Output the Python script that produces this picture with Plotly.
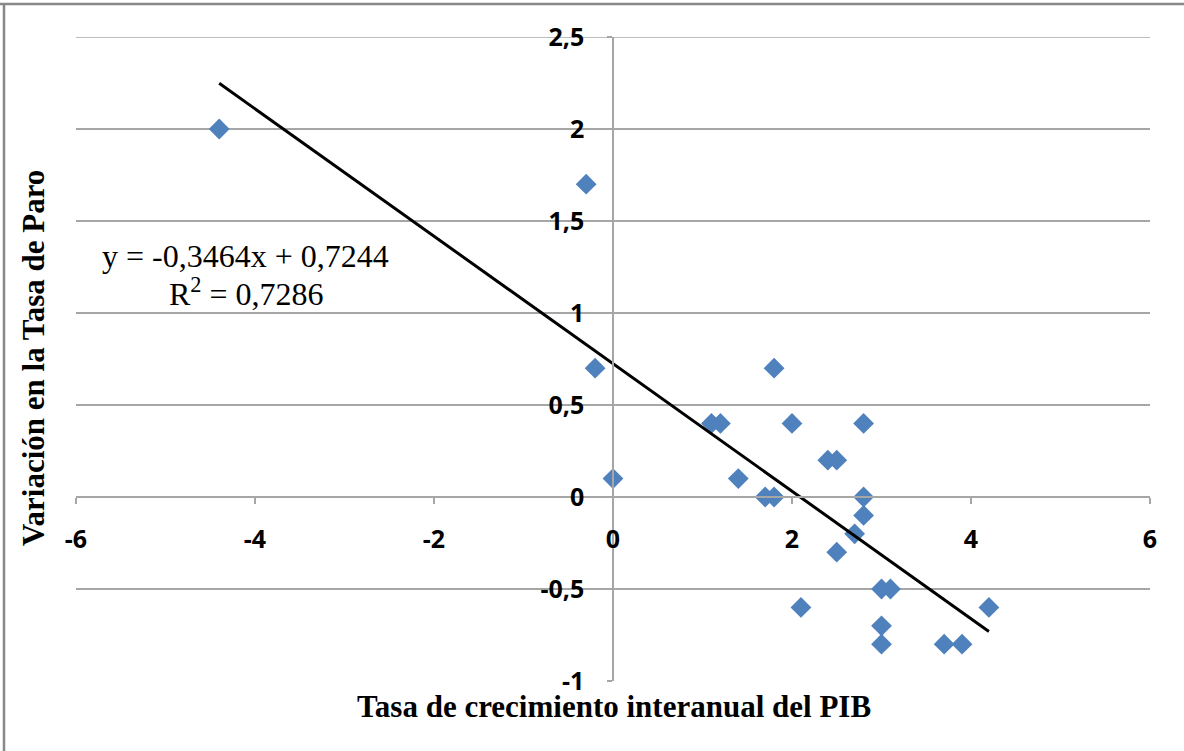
import plotly.graph_objects as go

# Data
pib_growth = [-4.4, -0.3, -0.2, 0.0, 1.1, 1.2, 1.4, 1.7, 1.8, 1.8, 2.0, 2.4, 2.5,
              2.8, 2.8, 2.8, 2.7, 2.5, 3.0, 3.1, 2.1, 4.2, 3.0, 3.0, 3.7, 3.9]
paro_change = [2.0, 1.7, 0.7, 0.1, 0.4, 0.4, 0.1, 0.0, 0.0, 0.7, 0.4, 0.2, 0.2,
               0.4, 0.0, -0.1, -0.2, -0.3, -0.5, -0.5, -0.6, -0.6, -0.7, -0.8, -0.8, -0.8]

trend_slope = -0.3464
trend_intercept = 0.7244

x_tickvals = [-6, -4, -2, 0, 2, 4, 6]
x_ticktext = ["-6", "-4", "-2", "0", "2", "4", "6"]
y_tickvals = [-1, -0.5, 0, 0.5, 1, 1.5, 2, 2.5]
y_ticktext = ["-1", "-0,5", "0", "0,5", "1", "1,5", "2", "2,5"]

x_range = [-6, 6]
y_range = [-1, 2.5]

eq_text = "y = -0,3464x + 0,7244"
r2_text = "R<sup>2</sup> = 0,7286"

W, H = 1184, 751
ml, mr, mt, mb = 76, 34, 37, 70
pw, ph = W - ml - mr, H - mt - mb

def px_to_paper_x(px):
    return (px - ml) / pw

def px_to_paper_y(py):
    return (H - mb - py) / ph

trend_x = [min(pib_growth), max(pib_growth)]
trend_y = [trend_slope * v + trend_intercept for v in trend_x]

fig = go.Figure()
fig.add_trace(go.Scatter(
    x=pib_growth, y=paro_change, mode="markers",
    marker=dict(symbol="diamond", size=16, color="#4F81BD", line=dict(width=0)),
    showlegend=False, hoverinfo="x+y"))
fig.add_trace(go.Scatter(
    x=trend_x, y=trend_y, mode="lines",
    line=dict(color="black", width=3), showlegend=False, hoverinfo="skip"))

grid_col = "#A6A6A6"
tick_font = dict(family="Open Sans", size=25, color="black", weight="bold")

fig.update_layout(
    width=W, height=H,
    margin=dict(l=ml, r=mr, t=mt, b=mb),
    paper_bgcolor="white", plot_bgcolor="white",
    xaxis=dict(range=x_range, tickvals=x_tickvals, ticktext=x_ticktext,
               anchor="free", position=(0 - y_range[0]) / (y_range[1] - y_range[0]),
               showgrid=False, zeroline=False, showline=True, linecolor=grid_col, linewidth=1.5,
               ticks="outside", ticklen=6, tickcolor=grid_col, tickwidth=1.5,
               ticklabelstandoff=14, tickfont=tick_font),
    yaxis=dict(range=y_range, tickvals=y_tickvals, ticktext=y_ticktext,
               anchor="free", position=(0 - x_range[0]) / (x_range[1] - x_range[0]),
               showgrid=True, gridcolor=grid_col, gridwidth=1.5,
               zeroline=False, showline=True, linecolor=grid_col, linewidth=1.5,
               ticks="outside", ticklen=5, tickcolor=grid_col, tickwidth=1.5,
               ticklabelstandoff=18, tickfont=tick_font),
    annotations=[
        dict(text="Tasa de crecimiento interanual del PIB", xref="paper", yref="paper",
             x=px_to_paper_x(614), y=px_to_paper_y(706), xanchor="center", yanchor="middle",
             showarrow=False, font=dict(family="Liberation Serif", size=31, color="black", weight="bold")),
        dict(text="Variación en la Tasa de Paro", xref="paper", yref="paper",
             x=px_to_paper_x(33), y=px_to_paper_y(358), xanchor="center", yanchor="middle",
             textangle=-90, showarrow=False,
             font=dict(family="Liberation Serif", size=31, color="black", weight="bold")),
        dict(text=eq_text, xref="paper", yref="paper",
             x=px_to_paper_x(245), y=px_to_paper_y(256), xanchor="center", yanchor="middle",
             showarrow=False, font=dict(family="Liberation Serif", size=32, color="black")),
        dict(text=r2_text, xref="paper", yref="paper",
             x=px_to_paper_x(246), y=px_to_paper_y(292), xanchor="center", yanchor="middle",
             showarrow=False, font=dict(family="Liberation Serif", size=32, color="black")),
    ],
    shapes=[
        # top gridline at the upper end of the value range
        dict(type="line", xref="paper", yref="y", x0=0, x1=1,
             y0=y_range[1], y1=y_range[1], line=dict(color=grid_col, width=1.5), layer="below"),
        # outer chart border (top and left visible in the reference crop)
        dict(type="line", xref="paper", yref="paper",
             x0=px_to_paper_x(0), x1=px_to_paper_x(W), y0=px_to_paper_y(4), y1=px_to_paper_y(4),
             line=dict(color="#888888", width=2.5)),
        dict(type="line", xref="paper", yref="paper",
             x0=px_to_paper_x(4), x1=px_to_paper_x(4), y0=px_to_paper_y(3), y1=px_to_paper_y(H),
             line=dict(color="#888888", width=2.5)),
    ],
)

fig.write_html("out.html")
